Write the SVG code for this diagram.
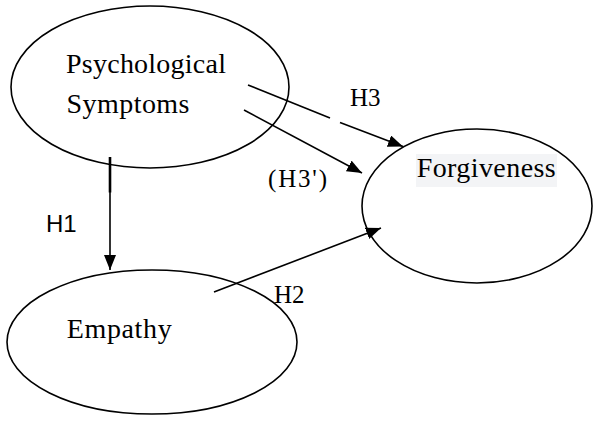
<svg xmlns="http://www.w3.org/2000/svg" width="595" height="421" viewBox="0 0 595 421">
<style>
.node{fill:#fff;stroke:#000;stroke-width:1.6}
.lbl{font-family:"Liberation Serif","Times New Roman",serif;font-size:28px;fill:#000}
.hyp{font-family:"Liberation Serif","Times New Roman",serif;font-size:25px;fill:#000}
.sans{font-family:"Liberation Sans",Arial,sans-serif;font-size:24px;fill:#000}
.edge{fill:none;stroke:#000;stroke-width:1.6}
</style>
<defs>
<marker id="arr" viewBox="0 0 15 12" refX="15" refY="6" markerWidth="15" markerHeight="12" markerUnits="userSpaceOnUse" orient="auto">
<path d="M0,0 L15,6 L0,12 z" fill="#000"/>
</marker>
</defs>
<rect width="595" height="421" fill="#fff"/>
<g id="node-psych">
<ellipse class="node" cx="150" cy="87" rx="139" ry="81"/>
<text class="lbl" x="66" y="73" textLength="160" lengthAdjust="spacing">Psychological</text>
<text class="lbl" x="66.5" y="113" textLength="123" lengthAdjust="spacing">Symptoms</text>
</g>
<g id="node-forgiveness">
<ellipse class="node" cx="477" cy="206" rx="115" ry="77"/>
<rect x="416" y="154" width="141" height="33" fill="#f3f4f6"/>
<text class="lbl" x="416.7" y="177.3" textLength="139" lengthAdjust="spacing">Forgiveness</text>
</g>
<g id="node-empathy">
<ellipse class="node" cx="152" cy="342" rx="145" ry="72"/>
<text class="lbl" x="66.7" y="338.3" textLength="105" lengthAdjust="spacing">Empathy</text>
</g>
<g id="connectors">
<line class="edge" x1="248" y1="85" x2="330" y2="118"/>
<line class="edge" x1="340" y1="122.5" x2="403" y2="146.5" marker-end="url(#arr)"/>
<line class="edge" x1="244" y1="110" x2="362" y2="173" marker-end="url(#arr)"/>
<line x1="110" y1="157" x2="110" y2="192.5" stroke="#000" stroke-width="2.6"/>
<line class="edge" x1="110" y1="192" x2="110" y2="270" marker-end="url(#arr)"/>
<line class="edge" x1="214" y1="292" x2="381" y2="228" marker-end="url(#arr)"/>
<text class="hyp" x="350" y="106">H3</text>
<text class="hyp" x="268" y="186.7" textLength="59" lengthAdjust="spacing">(H3')</text>
<text class="hyp" x="274" y="303">H2</text>
<text class="sans" x="46" y="231.7">H1</text>
</g>
</svg>
